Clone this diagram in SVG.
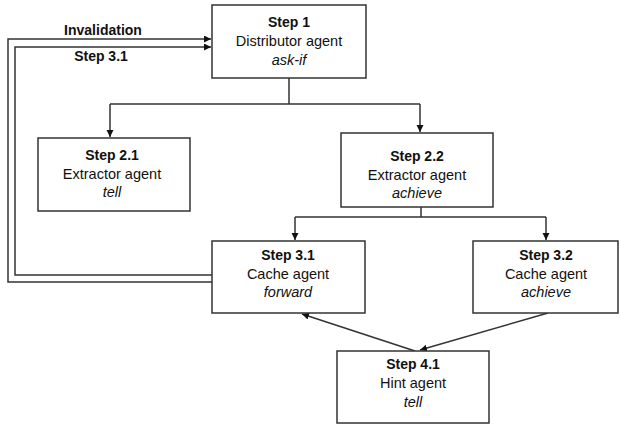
<svg xmlns="http://www.w3.org/2000/svg" width="620" height="425" viewBox="0 0 620 425">
<style>
.box{fill:#fff;stroke:#333;stroke-width:1.5}
.ln{fill:none;stroke:#333;stroke-width:1.5}
text{font-family:"Liberation Sans",Arial,sans-serif;font-size:14.5px;fill:#111;text-anchor:middle}
.b{font-weight:bold;font-size:14px}
.i{font-style:italic}
</style>
<defs>
<marker id="ah" markerWidth="8" markerHeight="8" refX="7" refY="3.5" orient="auto" markerUnits="userSpaceOnUse">
<path d="M0,0 L7,3.5 L0,7 Z" fill="#111"/>
</marker>
</defs>
<rect width="620" height="425" fill="#fff"/>
<g id="connectors">
<path class="ln" d="M212,282 H8 V39 H211" marker-end="url(#ah)"/>
<path class="ln" d="M212,275 H15 V47 H211" marker-end="url(#ah)"/>
<path class="ln" d="M289,78 V104 M110,104 H420"/>
<path class="ln" d="M110,104 V137" marker-end="url(#ah)"/>
<path class="ln" d="M420,104 V132" marker-end="url(#ah)"/>
<path class="ln" d="M421,207 V217 M295,217 H546"/>
<path class="ln" d="M295,217 V240" marker-end="url(#ah)"/>
<path class="ln" d="M546,217 V240" marker-end="url(#ah)"/>
<path class="ln" d="M415,351 L302,314" marker-end="url(#ah)"/>
<path class="ln" d="M548,313 L420,350" marker-end="url(#ah)"/>
<text class="b" x="103" y="35">Invalidation</text>
<text class="b" x="101" y="61">Step 3.1</text>
</g>
<g id="step1">
<rect class="box" x="212" y="5" width="154" height="73"/>
<text class="b" x="289" y="27">Step 1</text>
<text x="289" y="46">Distributor agent</text>
<text class="i" x="289" y="65">ask-if</text>
</g>
<g id="step21">
<rect class="box" x="38" y="138" width="152" height="73"/>
<text class="b" x="112" y="160">Step 2.1</text>
<text x="112" y="179">Extractor agent</text>
<text class="i" x="112" y="197">tell</text>
</g>
<g id="step22">
<rect class="box" x="341" y="133" width="152" height="74"/>
<text class="b" x="417" y="161">Step 2.2</text>
<text x="417" y="180">Extractor agent</text>
<text class="i" x="417" y="198">achieve</text>
</g>
<g id="step31">
<rect class="box" x="212" y="241" width="153" height="72"/>
<text class="b" x="288" y="260">Step 3.1</text>
<text x="288" y="279">Cache agent</text>
<text class="i" x="288" y="297">forward</text>
</g>
<g id="step32">
<rect class="box" x="473" y="241" width="145" height="72"/>
<text class="b" x="546" y="260">Step 3.2</text>
<text x="546" y="279">Cache agent</text>
<text class="i" x="546" y="297">achieve</text>
</g>
<g id="step41">
<rect class="box" x="337" y="351" width="152" height="72"/>
<text class="b" x="413" y="369">Step 4.1</text>
<text x="413" y="388">Hint agent</text>
<text class="i" x="413" y="407">tell</text>
</g>
</svg>
